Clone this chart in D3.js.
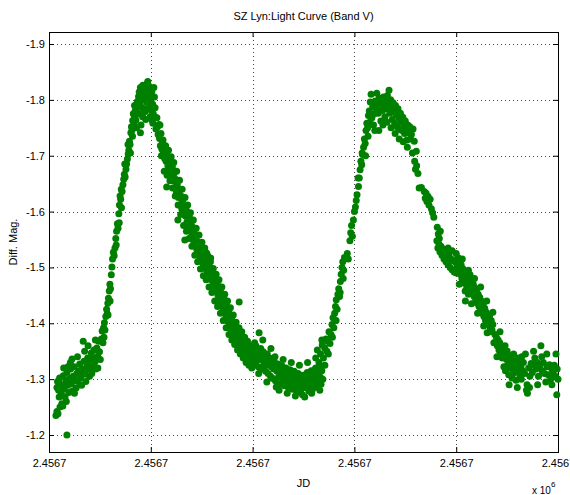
<!DOCTYPE html>
<html><head><meta charset="utf-8">
<script src="https://cdn.jsdelivr.net/npm/d3@7/dist/d3.min.js"></script>
<style>
body{margin:0;background:#fff}
svg{display:block}
text{font-family:"Liberation Sans",Arial,Helvetica,sans-serif;fill:#000}
</style>
</head><body>
<svg id="chart" width="570" height="495"></svg>
<script>
// ---- chart data (x = JD offset in days from start of axis, y = differential magnitude) ----
const chartTitle = "SZ Lyn:Light Curve (Band V)";
const xLabel = "JD";
const yLabel = "Diff. Mag.";
const xExponent = "6";
const xTickValues = [0, 0.05, 0.10, 0.15, 0.20, 0.25];
const xTickLabels = ["2.4567", "2.4567", "2.4567", "2.4567", "2.4567", "2.4567"];
const yTickValues = [-1.9, -1.8, -1.7, -1.6, -1.5, -1.4, -1.3, -1.2];
const yTickLabels = ["-1.9", "-1.8", "-1.7", "-1.6", "-1.5", "-1.4", "-1.3", "-1.2"];
const xDomain = [0, 0.25];
const yDomain = [-1.9215, -1.1696];

const minimum1 = [[0.0034,-1.235],[0.0039,-1.242],[0.0044,-1.238],[0.0054,-1.25],[0.0063,-1.256],[0.0068,-1.252],[0.0088,-1.200],
[0.0039,-1.285],[0.0042,-1.296],[0.0047,-1.28],[0.0052,-1.302],[0.0056,-1.291],[0.0061,-1.274],[0.0066,-1.288],[0.0070,-1.306],[0.0075,-1.283],[0.0079,-1.268],[0.0083,-1.297],[0.0088,-1.312],[0.0092,-1.289],[0.0093,-1.322],[0.0097,-1.276],[0.0101,-1.301],[0.0106,-1.318],[0.0110,-1.292],[0.0113,-1.336],[0.0115,-1.279],[0.0119,-1.305],[0.0124,-1.322],[0.0128,-1.298],[0.0133,-1.284],[0.0137,-1.31],[0.0142,-1.296],[0.0146,-1.315],[0.0151,-1.327],[0.0155,-1.302],[0.0160,-1.289],[0.0164,-1.318],[0.0168,-1.368],[0.0172,-1.332],[0.0177,-1.309],[0.0181,-1.296],[0.0186,-1.322],[0.0190,-1.338],[0.0195,-1.318],[0.0199,-1.305],[0.0203,-1.33],[0.0208,-1.347],[0.0212,-1.322],[0.0217,-1.338],[0.0221,-1.352],[0.0226,-1.331],[0.0230,-1.318],[0.0235,-1.356],[0.0239,-1.341],[0.0244,-1.368],[0.0248,-1.349],[0.0252,-1.335],
[0.0050,-1.268],[0.0072,-1.32],[0.0085,-1.26],[0.0105,-1.33],[0.0125,-1.275],[0.0140,-1.34],[0.0158,-1.31],[0.0175,-1.35],[0.0192,-1.36],[0.0210,-1.31],[0.0228,-1.37],[0.0240,-1.32]];

const rise1 = [[0.0257,-1.372],[0.0261,-1.386],[0.0265,-1.365],[0.0268,-1.392],[0.0272,-1.401],[0.0275,-1.388],[0.0279,-1.412],[0.0283,-1.425],[0.0286,-1.417],[0.0289,-1.436],[0.0292,-1.445],[0.0296,-1.458],[0.0299,-1.47],[0.0302,-1.462],[0.0306,-1.487],[0.0309,-1.501],[0.0312,-1.515],[0.0316,-1.527],[0.0320,-1.521],[0.0324,-1.535],[0.0328,-1.552],[0.0332,-1.565],[0.0336,-1.578],[0.0339,-1.57],
[0.0343,-1.596],[0.0346,-1.612],[0.0349,-1.628],[0.0352,-1.622],[0.0356,-1.607],[0.0359,-1.636],[0.0363,-1.648],[0.0367,-1.658],[0.0370,-1.667],[0.0374,-1.662],[0.0378,-1.676],[0.0381,-1.685],[0.0385,-1.694],[0.0389,-1.703],[0.0392,-1.71],[0.0395,-1.726],[0.0398,-1.72],[0.0402,-1.741],[0.0405,-1.752],[0.0408,-1.746],[0.0411,-1.763],[0.0414,-1.775],[0.0418,-1.758],[0.0421,-1.768],[0.0424,-1.781],[0.0427,-1.764],[0.0431,-1.788],[0.0434,-1.797],[0.0437,-1.776],[0.0440,-1.806],[0.0449,-1.741],[0.0452,-1.755],
[0.0330,-1.54],[0.0345,-1.58],[0.0355,-1.64],[0.0372,-1.685],[0.0388,-1.72],[0.0400,-1.705],[0.0410,-1.735],[0.0420,-1.79],[0.0430,-1.75],[0.0300,-1.44],[0.0290,-1.415],[0.0270,-1.375]];

const maximum1 = [[0.0443,-1.814],[0.0446,-1.795],[0.0449,-1.822],[0.0452,-1.808],[0.0455,-1.787],[0.0458,-1.815],[0.0461,-1.826],[0.0464,-1.802],[0.0467,-1.784],[0.0470,-1.811],[0.0473,-1.779],[0.0476,-1.818],[0.0479,-1.796],[0.0482,-1.829],[0.0485,-1.833],[0.0488,-1.806],[0.0491,-1.788],[0.0494,-1.812],[0.0497,-1.77],[0.0500,-1.797],[0.0503,-1.781],[0.0506,-1.764],[0.0509,-1.792],[0.0512,-1.775],[0.0515,-1.822],[0.0518,-1.805],[0.0521,-1.786],
[0.0445,-1.775],[0.0460,-1.77],[0.0475,-1.765],[0.0490,-1.825],[0.0505,-1.815],[0.0510,-1.758],[0.0520,-1.77],[0.0525,-1.748]];

const decline1 = [[0.0530,-1.768],[0.0533,-1.752],[0.0536,-1.738],[0.0540,-1.756],[0.0543,-1.731],[0.0547,-1.718],[0.0550,-1.74],[0.0554,-1.712],[0.0557,-1.725],[0.0561,-1.703],[0.0564,-1.716],[0.0568,-1.695],[0.0571,-1.708],[0.0575,-1.69],[0.0578,-1.644],[0.0581,-1.7],[0.0584,-1.682],[0.0588,-1.694],[0.0591,-1.672],[0.0595,-1.686],[0.0598,-1.676],[0.0602,-1.665],[0.0606,-1.68],[0.0610,-1.655],[0.0614,-1.668],[0.0618,-1.643],[0.0622,-1.658],[0.0626,-1.635],[0.0630,-1.648],[0.0633,-1.585],[0.0636,-1.625],[0.0640,-1.638],[0.0644,-1.612],[0.0648,-1.628],[0.0652,-1.605],[0.0656,-1.618],[0.0660,-1.596],[0.0664,-1.61],[0.0667,-1.549],[0.0670,-1.592],[0.0674,-1.603],[0.0678,-1.582],[0.0682,-1.596],[0.0686,-1.574],[0.0690,-1.589],[0.0694,-1.566],[0.0698,-1.58],[0.0702,-1.558],
[0.0706,-1.572],[0.0710,-1.548],[0.0714,-1.561],[0.0718,-1.54],[0.0722,-1.553],[0.0726,-1.532],[0.0730,-1.546],[0.0734,-1.525],[0.0738,-1.539],[0.0742,-1.518],[0.0746,-1.533],[0.0750,-1.512],[0.0754,-1.527],[0.0758,-1.505],[0.0762,-1.52],[0.0766,-1.498],[0.0770,-1.513],[0.0774,-1.526],[0.0778,-1.492],[0.0782,-1.506],[0.0786,-1.485],[0.0790,-1.5],[0.0794,-1.517],[0.0798,-1.478],[0.0802,-1.494],[0.0806,-1.472],[0.0810,-1.488],[0.0814,-1.466],[0.0818,-1.482],[0.0822,-1.457],[0.0826,-1.474],[0.0830,-1.45],[0.0834,-1.466],[0.0838,-1.444],[0.0842,-1.46],[0.0846,-1.436],[0.0850,-1.452],[0.0854,-1.428],[0.0858,-1.445],[0.0862,-1.42],[0.0866,-1.437],[0.0870,-1.412],[0.0874,-1.43],[0.0878,-1.405],[0.0882,-1.421],[0.0886,-1.398],[0.0890,-1.414],[0.0894,-1.39],[0.0898,-1.406],[0.0902,-1.385],[0.0906,-1.399],[0.0910,-1.378],[0.0914,-1.393],[0.0918,-1.371],[0.0922,-1.386],[0.0926,-1.366],[0.0930,-1.38],[0.0934,-1.438],[0.0938,-1.374],[0.0942,-1.36],[0.0946,-1.368],[0.0950,-1.354],[0.0955,-1.363],[0.0960,-1.349],[0.0965,-1.358],[0.0970,-1.345],[0.0975,-1.354],[0.0980,-1.341],[0.0985,-1.35],[0.0990,-1.337],[0.0995,-1.346],[0.1000,-1.334],
[0.0545,-1.755],[0.0552,-1.70],[0.0560,-1.728],[0.0566,-1.672],[0.0573,-1.718],[0.0580,-1.665],[0.0587,-1.71],[0.0594,-1.655],[0.0600,-1.698],[0.0607,-1.642],[0.0613,-1.688],[0.0620,-1.628],[0.0627,-1.672],[0.0634,-1.612],[0.0641,-1.656],[0.0647,-1.595],[0.0654,-1.64],[0.0661,-1.575],[0.0668,-1.625],[0.0675,-1.565],[0.0681,-1.612],[0.0688,-1.552],[0.0695,-1.598],[0.0702,-1.538],[0.0709,-1.585],[0.0716,-1.522],[0.0723,-1.57],[0.0730,-1.51],[0.0737,-1.558],[0.0744,-1.497],[0.0751,-1.545],[0.0758,-1.485],[0.0765,-1.535],[0.0772,-1.478],[0.0779,-1.522],[0.0786,-1.465],[0.0793,-1.51],[0.0800,-1.455],[0.0807,-1.498],[0.0814,-1.44],[0.0821,-1.488],[0.0828,-1.43],[0.0835,-1.478],[0.0842,-1.418],[0.0849,-1.465],[0.0856,-1.405],[0.0863,-1.452],[0.0870,-1.392],[0.0877,-1.44],[0.0884,-1.38],[0.0891,-1.428],[0.0898,-1.37],[0.0905,-1.415],[0.0912,-1.362],[0.0919,-1.402],[0.0926,-1.352],[0.0933,-1.392],[0.0940,-1.345],[0.0947,-1.385],[0.0954,-1.338],[0.0961,-1.375],[0.0968,-1.33],[0.0975,-1.368],[0.0982,-1.325],[0.0989,-1.36],[0.0996,-1.32]];

const minimum2 = [[0.1004,-1.352],[0.1008,-1.327],[0.1012,-1.344],[0.1016,-1.36],[0.1020,-1.333],[0.1024,-1.348],[0.1028,-1.322],[0.1032,-1.383],[0.1036,-1.339],[0.1040,-1.355],[0.1044,-1.318],[0.1048,-1.334],[0.1052,-1.349],[0.1056,-1.325],[0.1060,-1.341],[0.1064,-1.314],[0.1068,-1.33],[0.1072,-1.345],[0.1076,-1.31],[0.1080,-1.326],[0.1084,-1.338],[0.1088,-1.305],[0.1092,-1.322],[0.1096,-1.335],[0.1100,-1.301],[0.1104,-1.318],[0.1108,-1.33],[0.1112,-1.297],[0.1116,-1.286],[0.1120,-1.314],[0.1124,-1.327],[0.1128,-1.304],[0.1132,-1.319],[0.1136,-1.292],[0.1140,-1.31],[0.1144,-1.324],[0.1148,-1.3],[0.1152,-1.315],[0.1156,-1.288],[0.1160,-1.306],[0.1164,-1.32],[0.1168,-1.297],[0.1172,-1.312],[0.1176,-1.285],[0.1180,-1.302],[0.1184,-1.317],[0.1188,-1.293],[0.1192,-1.308],[0.1196,-1.282],[0.1200,-1.299],[0.1204,-1.314],[0.1208,-1.29],[0.1212,-1.305],[0.1216,-1.279],[0.1220,-1.296],[0.1224,-1.31],[0.1228,-1.287],[0.1232,-1.302],[0.1236,-1.276],[0.1240,-1.293],[0.1245,-1.272],[0.1248,-1.307],[0.1252,-1.29],[0.1256,-1.268],[0.1260,-1.3],[0.1264,-1.285],[0.1268,-1.312],[0.1272,-1.294],[0.1276,-1.279],[0.1280,-1.303],[0.1284,-1.288],[0.1288,-1.315],[0.1292,-1.297],[0.1296,-1.283],[0.1300,-1.306],[0.1304,-1.292],[0.1308,-1.318],[0.1312,-1.3],[0.1316,-1.287],[0.1320,-1.31],[0.1324,-1.296],[0.1328,-1.322],[0.1332,-1.304],[0.1336,-1.291],[0.1340,-1.315],
[0.1010,-1.365],[0.1030,-1.31],[0.1050,-1.37],[0.1070,-1.295],[0.1090,-1.355],[0.1110,-1.34],[0.1130,-1.28],[0.1150,-1.335],[0.1170,-1.275],[0.1190,-1.33],[0.1210,-1.27],[0.1230,-1.325],[0.1250,-1.285],[0.1270,-1.33],[0.1290,-1.275],[0.1310,-1.32],[0.1330,-1.28],[0.1345,-1.3],[0.1355,-1.325]];

const rise2 = [[0.1310,-1.338],[0.1318,-1.352],[0.1326,-1.33],[0.1334,-1.345],[0.1342,-1.361],[0.1348,-1.338],[0.1354,-1.356],[0.1360,-1.372],[0.1365,-1.35],[0.1370,-1.368],[0.1375,-1.385],[0.1380,-1.364],[0.1385,-1.38],[0.1390,-1.398],[0.1395,-1.41],[0.1399,-1.392],[0.1403,-1.418],[0.1407,-1.43],[0.1411,-1.442],[0.1415,-1.425],[0.1419,-1.452],[0.1423,-1.462],[0.1427,-1.448],[0.1431,-1.475],[0.1435,-1.488],[0.1439,-1.5],[0.1443,-1.51],[0.1447,-1.495],[0.1451,-1.518],[0.1470,-1.515],[0.1478,-1.548],[0.1482,-1.562],[0.1486,-1.575],[0.1490,-1.556],[0.1505,-1.608],[0.1509,-1.62],[0.1513,-1.63],[0.1520,-1.645],[0.1524,-1.66],[0.1528,-1.675],[0.1532,-1.69],[0.1536,-1.684],[0.1540,-1.702],[0.1545,-1.715],[0.1549,-1.73],[0.1553,-1.722],[0.1557,-1.745],[0.1561,-1.758],[0.1565,-1.75],[0.1569,-1.772],[0.1573,-1.78],[0.1578,-1.796],
[0.1340,-1.37],[0.1372,-1.345],[0.1392,-1.375],[0.1410,-1.405],[0.1430,-1.455],[0.1445,-1.48],[0.1465,-1.525],[0.1495,-1.585],[0.1500,-1.60],[0.1518,-1.66],[0.1538,-1.705],[0.1555,-1.70],[0.1567,-1.735],[0.1575,-1.76],[0.1580,-1.77]];

const maximum2 = [[0.1582,-1.81],[0.1586,-1.768],[0.1590,-1.788],[0.1594,-1.755],[0.1598,-1.775],[0.1602,-1.798],[0.1606,-1.785],[0.1610,-1.812],[0.1614,-1.795],[0.1618,-1.776],[0.1622,-1.803],[0.1626,-1.788],[0.1630,-1.762],[0.1634,-1.797],[0.1638,-1.781],[0.1642,-1.805],[0.1646,-1.79],[0.1650,-1.77],[0.1654,-1.799],[0.1658,-1.784],[0.1662,-1.808],[0.1666,-1.792],[0.1670,-1.817],[0.1674,-1.776],[0.1678,-1.8],[0.1682,-1.786],[0.1686,-1.765],[0.1690,-1.795],[0.1694,-1.78],[0.1698,-1.758],[0.1702,-1.79],[0.1706,-1.774],[0.1710,-1.752],[0.1714,-1.784],[0.1718,-1.768],[0.1722,-1.747],[0.1726,-1.776],[0.1730,-1.761],[0.1734,-1.745],[0.1738,-1.769],[0.1742,-1.755],[0.1746,-1.74],[0.1750,-1.762],[0.1754,-1.748],[0.1758,-1.728],[0.1762,-1.755],[0.1766,-1.741],[0.1772,-1.752],[0.1780,-1.738],[0.1788,-1.748],[0.1794,-1.726],[0.1804,-1.708],
[0.1600,-1.745],[0.1620,-1.745],[0.1640,-1.755],[0.1660,-1.76],[0.1680,-1.75],[0.1700,-1.74],[0.1720,-1.73],[0.1740,-1.725],[0.1760,-1.715],[0.1775,-1.73],[0.1785,-1.705]];

const decline2 = [[0.1796,-1.69],[0.1800,-1.676],[0.1806,-1.682],[0.1812,-1.668],[0.1818,-1.642],[0.1829,-1.643],[0.1843,-1.636],[0.1848,-1.624],[0.1852,-1.633],[0.1856,-1.618],[0.1862,-1.627],[0.1866,-1.612],[0.1872,-1.622],[0.1878,-1.605],[0.1884,-1.598],[0.1890,-1.59],[0.1907,-1.572],[0.1912,-1.56],[0.1917,-1.552],[0.1922,-1.565],[0.1905,-1.548],[0.1910,-1.535],[0.1915,-1.542],[0.1920,-1.528],[0.1925,-1.538],[0.1930,-1.522],[0.1935,-1.533],[0.1940,-1.515],[0.1945,-1.528],[0.1950,-1.51],[0.1955,-1.524],[0.1960,-1.505],[0.1965,-1.52],[0.1970,-1.5],[0.1975,-1.515],[0.1980,-1.496],[0.1985,-1.512],[0.1990,-1.492],
[0.1995,-1.51],[0.2000,-1.525],[0.2004,-1.503],[0.2008,-1.518],[0.2012,-1.497],[0.2016,-1.512],[0.2020,-1.488],[0.2024,-1.505],[0.2028,-1.48],[0.2032,-1.498],[0.2036,-1.472],[0.2040,-1.49],[0.2044,-1.458],[0.2048,-1.483],[0.2052,-1.465],[0.2056,-1.478],[0.2060,-1.452],[0.2064,-1.47],[0.2068,-1.487],[0.2072,-1.462],[0.2076,-1.476],[0.2080,-1.455],[0.2084,-1.47],[0.2088,-1.448],[0.2092,-1.463],[0.2096,-1.442],[0.2100,-1.458],[0.2104,-1.436],[0.2108,-1.452],[0.2112,-1.43],[0.2116,-1.446],[0.2120,-1.425],[0.2124,-1.44],[0.2128,-1.418],[0.2132,-1.434],[0.2136,-1.412],[0.2140,-1.427],[0.2144,-1.405],[0.2148,-1.42],[0.2152,-1.383],[0.2156,-1.41],[0.2160,-1.398],[0.2164,-1.414],[0.2168,-1.392],[0.2172,-1.405],[0.2176,-1.388],[0.2180,-1.398],
[0.1960,-1.535],[0.1980,-1.53],[0.2000,-1.49],[0.2015,-1.47],[0.2030,-1.515],[0.2045,-1.44],[0.2060,-1.495],[0.2075,-1.435],[0.2090,-1.48],[0.2105,-1.418],[0.2120,-1.465],[0.2135,-1.395],[0.2150,-1.44],[0.2165,-1.385],[0.2180,-1.42],[0.2185,-1.365]];

const minimum3 = [[0.2190,-1.38],[0.2194,-1.366],[0.2198,-1.374],[0.2202,-1.36],[0.2206,-1.37],[0.2210,-1.352],[0.2214,-1.365],[0.2218,-1.345],[0.2222,-1.358],[0.2226,-1.338],[0.2230,-1.352],[0.2234,-1.322],[0.2238,-1.345],[0.2242,-1.315],[0.2246,-1.336],[0.2250,-1.35],[0.2254,-1.328],[0.2258,-1.308],[0.2262,-1.342],[0.2266,-1.32],[0.2270,-1.335],[0.2274,-1.302],[0.2278,-1.328],[0.2282,-1.345],[0.2286,-1.316],[0.2290,-1.332],[0.2294,-1.298],[0.2298,-1.322],[0.2302,-1.338],[0.2306,-1.312],[0.2310,-1.328],[0.2314,-1.305],[0.2318,-1.322],[0.2322,-1.34],[0.2326,-1.315],[0.2330,-1.33],[0.2336,-1.31],[0.2348,-1.29],[0.2350,-1.275],[0.2356,-1.32],[0.2362,-1.305],[0.2368,-1.328],[0.2374,-1.312],[0.2380,-1.325],[0.2386,-1.338],[0.2392,-1.318],[0.2398,-1.33],[0.2404,-1.305],[0.2410,-1.322],[0.2416,-1.36],[0.2422,-1.315],[0.2428,-1.33],[0.2434,-1.31],[0.2440,-1.295],[0.2446,-1.322],[0.2452,-1.308],[0.2458,-1.326],[0.2464,-1.3],[0.2470,-1.318],[0.2476,-1.31],[0.2482,-1.325],[0.2488,-1.305],[0.2494,-1.272],[0.2496,-1.318],
[0.2200,-1.34],[0.2215,-1.385],[0.2240,-1.36],[0.2260,-1.29],[0.2280,-1.31],[0.2300,-1.285],[0.2320,-1.30],[0.2340,-1.345],[0.2360,-1.285],[0.2380,-1.35],[0.2400,-1.29],[0.2420,-1.34],[0.2445,-1.345],[0.2470,-1.29],[0.2490,-1.345],[0.2500,-1.3],[0.2345,-1.28]];

// ---- drawing ----
const svg = d3.select("#chart");
const plot = {left: 49, right: 558, top: 32, bottom: 452};
const x = d3.scaleLinear().domain(xDomain).range([plot.left, plot.right]);
const y = d3.scaleLinear().domain(yDomain).range([plot.top, plot.bottom]);

// grid (dotted)
const grid = svg.append("g").attr("stroke", "#444").attr("stroke-width", 1).attr("stroke-dasharray", "1,3");
grid.selectAll("line.vx").data(xTickValues.slice(1, -1)).join("line")
  .attr("x1", d => Math.round(x(d)) + 0.5).attr("x2", d => Math.round(x(d)) + 0.5)
  .attr("y1", plot.top).attr("y2", plot.bottom);
grid.selectAll("line.hy").data(yTickValues).join("line")
  .attr("y1", d => Math.round(y(d)) + 0.5).attr("y2", d => Math.round(y(d)) + 0.5)
  .attr("x1", plot.left).attr("x2", plot.right);

// axes with inward ticks
const fontSize = 11;
function styleAxis(g) {
  g.select(".domain").remove();
  g.selectAll(".tick line").attr("stroke", "#000");
  g.selectAll("text").attr("font-size", fontSize).attr("font-family", null).attr("fill", "#000");
}
svg.append("g").attr("transform", `translate(0,${plot.bottom})`)
  .call(d3.axisBottom(x).tickValues(xTickValues).tickSize(-5).tickPadding(7)
    .tickFormat((d, i) => xTickLabels[i])).call(styleAxis);
svg.append("g").attr("transform", `translate(0,${plot.top})`)
  .call(d3.axisTop(x).tickValues(xTickValues).tickSize(-5).tickFormat(() => "")).call(styleAxis);
svg.append("g").attr("transform", `translate(${plot.left},0)`)
  .call(d3.axisLeft(y).tickValues(yTickValues).tickSize(-5).tickPadding(4)
    .tickFormat((d, i) => yTickLabels[i])).call(styleAxis);
svg.append("g").attr("transform", `translate(${plot.right},0)`)
  .call(d3.axisRight(y).tickValues(yTickValues).tickSize(-5).tickFormat(() => "")).call(styleAxis);

// box
svg.append("rect").attr("x", plot.left + 0.5).attr("y", plot.top + 0.5)
  .attr("width", plot.right - plot.left).attr("height", plot.bottom - plot.top)
  .attr("fill", "none").attr("stroke", "#000").attr("stroke-width", 1);

// data markers
const allPoints = [].concat(minimum1, rise1, maximum1, decline1, minimum2, rise2, maximum2, decline2, minimum3);
svg.append("g").selectAll("circle").data(allPoints).join("circle")
  .attr("cx", d => x(d[0])).attr("cy", d => y(d[1])).attr("r", 3.5)
  .attr("fill", "#008000");

// labels
svg.append("text").attr("x", (plot.left + plot.right) / 2).attr("y", 20)
  .attr("text-anchor", "middle").attr("font-size", fontSize).text(chartTitle);
svg.append("text").attr("x", (plot.left + plot.right) / 2).attr("y", 487)
  .attr("text-anchor", "middle").attr("font-size", fontSize).text(xLabel);
svg.append("text").attr("transform", `translate(17,${(plot.top + plot.bottom) / 2}) rotate(-90)`)
  .attr("text-anchor", "middle").attr("font-size", fontSize).text(yLabel);
const ex = svg.append("text").attr("x", 532).attr("y", 494).attr("font-size", 10);
ex.append("tspan").text("x 10");
ex.append("tspan").attr("font-size", 8).attr("dy", -7).text(xExponent);
</script>
</body></html>
